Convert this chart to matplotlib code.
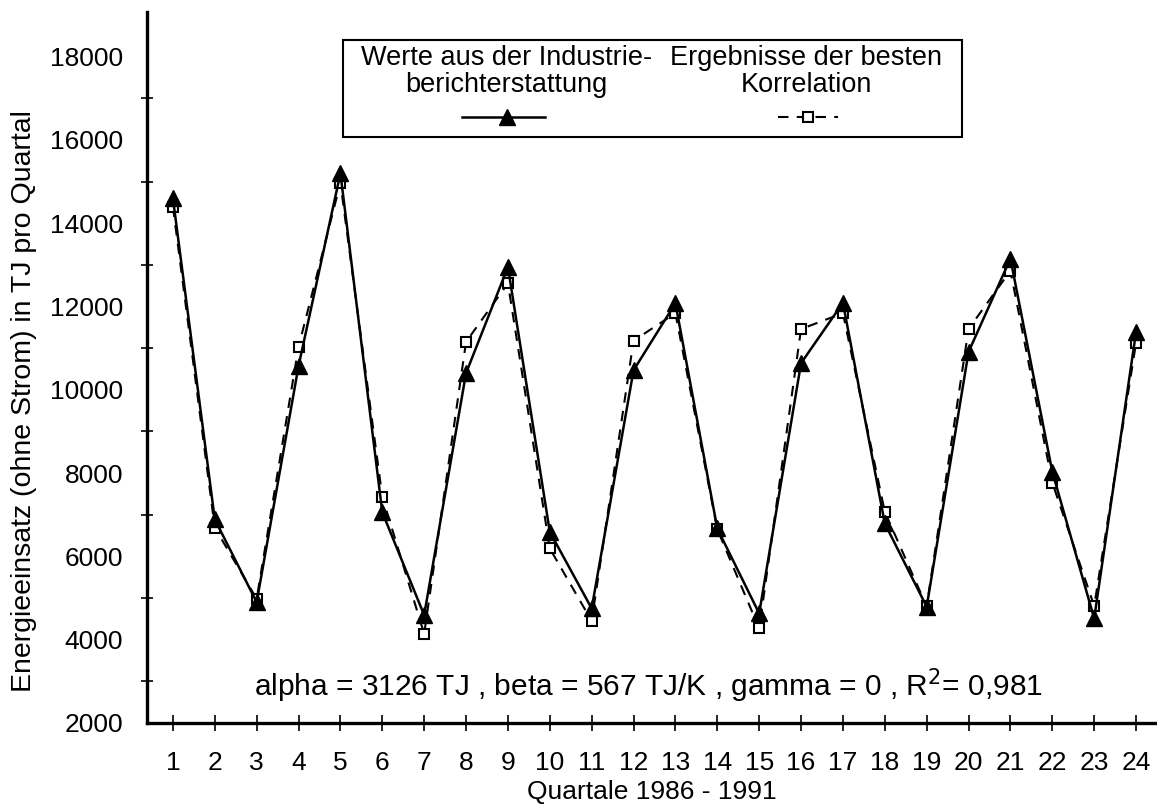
import numpy as np
import matplotlib
matplotlib.use("Agg")
import matplotlib.pyplot as plt
from matplotlib.lines import Line2D
from matplotlib.patches import Rectangle

plt.rcParams['font.family'] = ['Liberation Sans', 'DejaVu Sans']
plt.rcParams['font.size'] = 19

quartale = np.arange(1, 25)
industrie = [14600, 6890, 4900, 10570, 15200, 7060, 4590, 10400, 12950, 6590, 4750, 10470,
             12080, 6670, 4630, 10640, 12090, 6790, 4790, 10910, 13150, 8030, 4510, 11390]
korrelation = [14400, 6690, 4980, 11030, 14970, 7430, 4140, 11150, 12560, 6190, 4450, 11180,
               11840, 6650, 4270, 11460, 11840, 7070, 4800, 11460, 12860, 7770, 4810, 11130]
y_labels = [2000, 4000, 6000, 8000, 10000, 12000, 14000, 16000, 18000]

fig = plt.figure(figsize=(11.57, 8.06), dpi=100)
ax = fig.add_axes([0.127, 0.103, 0.873, 0.882])

ax.plot(quartale, korrelation, color='black', lw=1.5, ls=(0, (5, 4)),
        marker='s', ms=7, mfc='white', mec='black', mew=1.5, zorder=3)
ax.plot(quartale, industrie, color='black', lw=1.8, ls='-',
        marker='^', ms=11, mfc='black', mec='black', zorder=4)

ax.set_xlim(0.38, 24.5)
ax.set_ylim(2000, 19070)

for s in ['top', 'right']:
    ax.spines[s].set_visible(False)
for s in ['left', 'bottom']:
    ax.spines[s].set_linewidth(2.4)

ax.set_xticks(quartale)
ax.set_xticklabels([str(q) for q in quartale])
ax.tick_params(axis='x', direction='inout', length=12, width=1.2, pad=14)
ax.set_yticks(y_labels)
ax.set_yticklabels([str(v) for v in y_labels])
ax.tick_params(axis='y', which='major', length=0, pad=17)
ax.set_yticks(np.arange(3000, 18000, 2000), minor=True)
ax.tick_params(axis='y', which='minor', direction='inout', length=8, width=1.2)

ax.set_xlabel('Quartale 1986 - 1991', labelpad=4)
fig.text(0.021, 0.502, 'Energieeinsatz (ohne Strom) in TJ pro Quartal', rotation=90,
         ha='center', va='center', fontsize=20.5)

ax.text(12.35, 2890, 'alpha = 3126 TJ , beta = 567 TJ/K , gamma = 0 , R$^2$= 0,981',
        ha='center', va='center', fontsize=21.5)

# legend box drawn by hand (handles sit under the text)
fig.patches.append(Rectangle((0.2965, 0.830), 0.535, 0.120, transform=fig.transFigure,
                             fill=False, ec='black', lw=1.5))
fig.text(0.438, 0.911, 'Werte aus der Industrie-\nberichterstattung', ha='center',
         va='center', multialignment='center', linespacing=1.05, fontsize=19.5)
fig.text(0.697, 0.911, 'Ergebnisse der besten\nKorrelation', ha='center',
         va='center', multialignment='center', linespacing=1.05, fontsize=19.5)
fig.lines.append(Line2D([0.399, 0.471], [0.855, 0.855], transform=fig.transFigure,
                        color='black', lw=1.8))
fig.lines.append(Line2D([0.438], [0.855], transform=fig.transFigure, marker='^', ms=11,
                        color='black', ls='none'))
fig.lines.append(Line2D([0.672, 0.724], [0.855, 0.855], transform=fig.transFigure,
                        color='black', lw=1.5, ls=(0, (5, 4))))
fig.lines.append(Line2D([0.698], [0.855], transform=fig.transFigure, marker='s', ms=7,
                        mfc='white', mec='black', mew=1.5, ls='none'))

fig.savefig('out.png', dpi=100)
